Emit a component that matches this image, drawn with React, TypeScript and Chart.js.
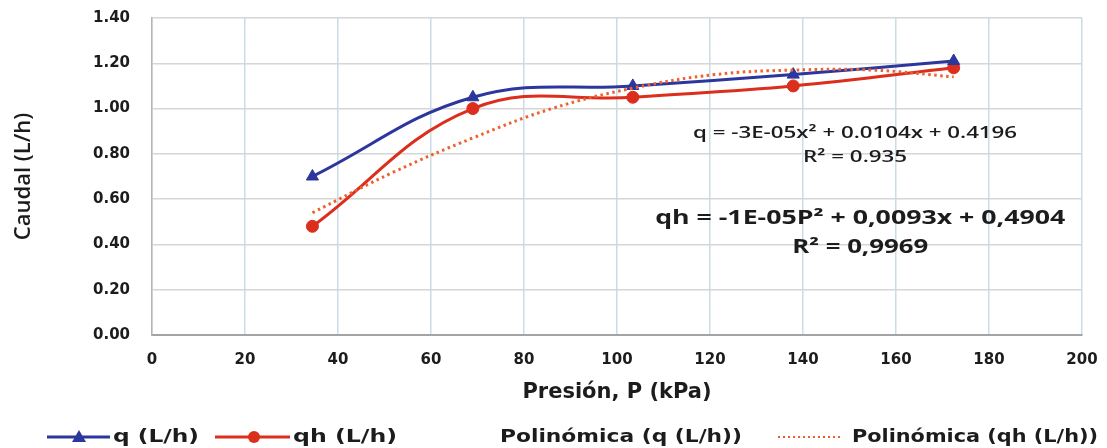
import React, { useEffect, useRef } from "react";
import { Chart, registerables } from "chart.js";

Chart.register(...registerables);

// ---- data ----
const pressure = [34.5, 69, 103.4, 137.9, 172.4];
const qValues = [0.7, 1.05, 1.1, 1.15, 1.21];
const qhValues = [0.48, 1.0, 1.05, 1.1, 1.18];
const trendPressure = [34.5, 52, 69, 86, 103.4, 121, 138, 155, 172.4];
const trendQh = [0.54, 0.72, 0.87, 1.0, 1.09, 1.15, 1.17, 1.17, 1.14];

const seriesLabels = ["q (L/h)", "qh (L/h)", "Polinómica (q (L/h))", "Polinómica (qh (L/h))"];
const eqQLines = ["q = -3E-05x² + 0.0104x + 0.4196", "R² = 0.935"];
const eqQhLines = ["qh = -1E-05P² + 0,0093x + 0,4904", "R² = 0,9969"];
const xTitle = "Presión, P (kPa)";
const yTitle = "Caudal (L/h)";

const BLUE = "#2b379c";
const RED = "#dc2e1c";
const TREND = "#f0602c";
const TEXT = "#1c1c1c";

function drawFitted(ctx: CanvasRenderingContext2D, text: string, x: number, y: number, font: string, width: number, align: "left" | "center") {
  ctx.save();
  ctx.font = font;
  const w = ctx.measureText(text).width;
  const sx = width / w;
  ctx.translate(x, y);
  ctx.scale(sx, 1);
  ctx.textAlign = align;
  ctx.textBaseline = "middle";
  ctx.fillStyle = TEXT;
  ctx.fillText(text, 0, 0);
  ctx.restore();
}

const overlayPlugin = {
  id: "overlay",
  afterDraw(chart: any) {
    const ctx: CanvasRenderingContext2D = chart.ctx;
    const xs = chart.scales.x;
    const ys = chart.scales.y;

    // equations
    const eqFontQ = "600 16px 'Open Sans', sans-serif";
    const eqFontQh = "bold 19px 'Open Sans', sans-serif";
    drawFitted(ctx, eqQLines[0], xs.getPixelForValue(151.2), ys.getPixelForValue(0.892), eqFontQ, 324, "center");
    drawFitted(ctx, eqQLines[1], xs.getPixelForValue(151.2), ys.getPixelForValue(0.782), eqFontQ, 104, "center");
    drawFitted(ctx, eqQhLines[0], xs.getPixelForValue(152.3), ys.getPixelForValue(0.512), eqFontQh, 410, "center");
    drawFitted(ctx, eqQhLines[1], xs.getPixelForValue(152.3), ys.getPixelForValue(0.385), eqFontQh, 136, "center");

    // legend
    const ly = 437;
    const lf = "bold 18px 'DejaVu Sans', sans-serif";
    ctx.save();
    ctx.strokeStyle = BLUE;
    ctx.lineWidth = 3;
    ctx.beginPath();
    ctx.moveTo(47, ly);
    ctx.lineTo(110, ly);
    ctx.stroke();
    ctx.fillStyle = BLUE;
    ctx.beginPath();
    ctx.moveTo(79, ly - 7);
    ctx.lineTo(86, ly + 5);
    ctx.lineTo(72, ly + 5);
    ctx.closePath();
    ctx.fill();
    ctx.strokeStyle = RED;
    ctx.beginPath();
    ctx.moveTo(215, ly);
    ctx.lineTo(290, ly);
    ctx.stroke();
    ctx.fillStyle = RED;
    ctx.beginPath();
    ctx.arc(254, ly, 6, 0, Math.PI * 2);
    ctx.fill();
    ctx.strokeStyle = TREND;
    ctx.lineWidth = 2;
    ctx.setLineDash([2, 3]);
    ctx.beginPath();
    ctx.moveTo(778, ly);
    ctx.lineTo(842, ly);
    ctx.stroke();
    ctx.restore();

    drawFitted(ctx, seriesLabels[0], 113, ly, lf, 86, "left");
    drawFitted(ctx, seriesLabels[1], 293, ly, lf, 104, "left");
    drawFitted(ctx, seriesLabels[2], 500, ly, lf, 242, "left");
    drawFitted(ctx, seriesLabels[3], 852, ly, lf, 246, "left");
  },
};

export default function App() {
  const ref = useRef<HTMLCanvasElement | null>(null);

  useEffect(() => {
    if (!ref.current) return;
    const chart = new Chart(ref.current, {
      type: "line",
      data: {
        datasets: [
          {
            label: seriesLabels[3],
            data: trendPressure.map((p, i) => ({ x: p, y: trendQh[i] })),
            borderColor: TREND,
            borderWidth: 3,
            borderDash: [2.5, 3.5],
            pointRadius: 0,
            tension: 0.4,
            fill: false,
            order: 0,
          },
          {
            label: seriesLabels[0],
            data: pressure.map((p, i) => ({ x: p, y: qValues[i] })),
            borderColor: BLUE,
            backgroundColor: BLUE,
            borderWidth: 3,
            pointStyle: "triangle",
            pointRadius: 7,
            pointBorderWidth: 1,
            tension: 0.4,
            fill: false,
            order: 1,
          },
          {
            label: seriesLabels[1],
            data: pressure.map((p, i) => ({ x: p, y: qhValues[i] })),
            borderColor: RED,
            backgroundColor: RED,
            borderWidth: 3,
            pointStyle: "circle",
            pointRadius: 6,
            pointBorderWidth: 1,
            tension: 0.4,
            fill: false,
            order: 2,
          },
        ],
      },
      options: {
        animation: false,
        responsive: false,
        layout: { padding: { left: 0, top: 18, right: 25, bottom: 40 } },
        plugins: {
          legend: { display: false },
          tooltip: { enabled: false },
        },
        scales: {
          x: {
            type: "linear",
            min: 0,
            max: 200,
            ticks: {
              stepSize: 20,
              padding: 16,
              color: TEXT,
              font: { family: "'DejaVu Sans', sans-serif", size: 15, weight: "bold" },
            },
            grid: { color: "#c9dde6", lineWidth: 1.5, drawTicks: false },
            border: { color: "#a3a3a3", width: 2 },
            title: {
              display: true,
              text: xTitle,
              color: TEXT,
              font: { family: "'DejaVu Sans', sans-serif", size: 21, weight: "bold" },
              padding: { top: 11, bottom: 3 },
            },
            afterFit: (s: any) => {
              s.height = 73;
              s.paddingLeft = 0;
              s.paddingRight = 0;
            },
          },
          y: {
            type: "linear",
            min: 0,
            max: 1.4,
            ticks: {
              stepSize: 0.2,
              padding: 22,
              color: TEXT,
              font: { family: "'DejaVu Sans', sans-serif", size: 15, weight: "bold" },
              callback: (v: any) => Number(v).toFixed(2),
            },
            grid: { color: "#d6d6d6", lineWidth: 1.5, drawTicks: false },
            border: { color: "#b5b5b5", width: 1.5 },
            title: {
              display: true,
              text: yTitle,
              color: TEXT,
              font: { family: "'Open Sans', sans-serif", size: 22, weight: "600" },
              padding: { top: 11, bottom: 0 },
            },
            afterFit: (s: any) => {
              s.width = 152;
              s.paddingTop = 0;
              s.paddingBottom = 0;
            },
          },
        },
      },
      plugins: [overlayPlugin],
    } as any);
    return () => chart.destroy();
  }, []);

  return (
    <div style={{ position: "absolute", left: 0, top: 0, width: 1107, height: 448, background: "#ffffff" }}>
      <canvas ref={ref} width={1107} height={448} style={{ display: "block" }} />
    </div>
  );
}
